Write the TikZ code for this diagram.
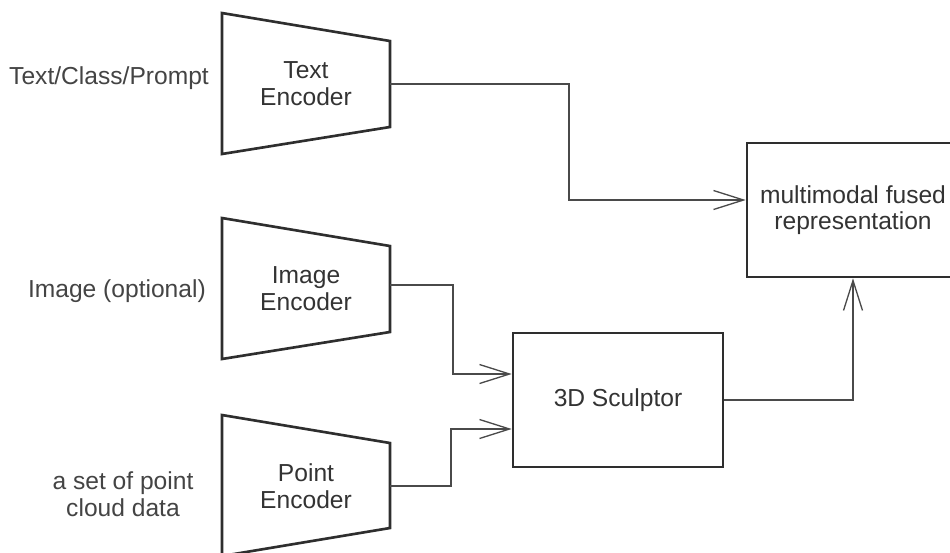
\documentclass[tikz,border=0pt]{standalone}
\usepackage{fontspec}
\setmainfont{Liberation Sans}
\usetikzlibrary{arrows.meta}
\definecolor{boxline}{HTML}{2E2E2E}
\definecolor{wireline}{HTML}{4A4A4A}
\definecolor{boxtext}{HTML}{333333}
\definecolor{sidetext}{HTML}{444444}
\tikzset{
  encoder/.style={draw=boxline, line width=1.5pt, line join=miter},
  block/.style={draw=boxline, line width=1.5pt, align=center, text=boxtext,
    font=\fontsize{14}{15.2}\selectfont},
  enclabel/.style={align=center, text=boxtext, font=\fontsize{14}{15.2}\selectfont},
  sidelabel/.style={align=center, text=sidetext, font=\fontsize{14}{15.2}\selectfont},
  wire/.style={draw=wireline, line width=0.75pt,
    -{Straight Barb[length=0.6cm, width=0.38cm]}}
}
\begin{document}
\begin{tikzpicture}[x=0.02cm, y=-0.02cm]
      \useasboundingbox (0,0) rectangle (950,552);
      % encoders
      \draw[encoder] (222,13) -- (390,41) -- (390,127) -- (222,154) -- cycle;
      \draw[encoder] (222,218) -- (390,246) -- (390,332) -- (222,359) -- cycle;
      \draw[encoder] (222,415) -- (390,443) -- (390,528) -- (222,556) -- cycle;
      \node[enclabel] (txtenc) at (306,84) {Text\\Encoder};
      \node[enclabel] (imgenc) at (306,289) {Image\\Encoder};
      \node[enclabel] (pntenc) at (306,486) {Point\\Encoder};
      \coordinate (txtout) at (390,84);
      \coordinate (imgout) at (390,285);
      \coordinate (pntout) at (390,486);
      % inputs
      \node[sidelabel, anchor=east] (txtin) at (215,78) {Text/Class/Prompt};
      \node[sidelabel, anchor=east] (imgin) at (212,291) {Image (optional)};
      \node[sidelabel] (pntin) at (123,494) {a set of point\\cloud data};
      % blocks
      \node[block, minimum width=4.2cm, minimum height=2.68cm] (sculptor) at (618,400) {3D Sculptor};
      \node[block, minimum width=4.24cm, minimum height=2.68cm] (fused) at (853,210)
        {multimodal fused\\representation};
      % wires
      \begin{scope}
        \draw[wire] (txtout) -- ++(179,0) |- ([yshift=0.2cm]fused.west);
        \draw[wire] (imgout) -- ++(63,0) |- ([yshift=0.52cm]sculptor.west);
        \draw[wire] (pntout) -- ++(61,0) |- ([yshift=-0.58cm]sculptor.west);
        \draw[wire] (sculptor.east) -| (fused.south);
      \end{scope}
    \end{tikzpicture}
\end{document}
